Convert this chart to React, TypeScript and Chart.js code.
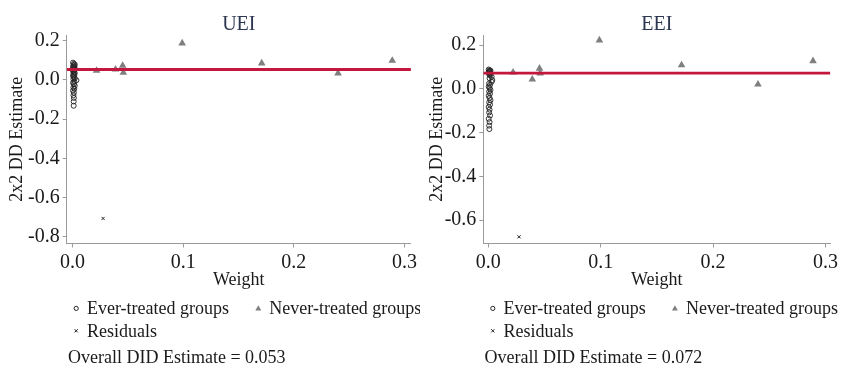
import React, { useEffect, useRef } from "react";
import { Chart, registerables } from "chart.js";

Chart.register(...registerables);

// ---------- UEI panel data ----------
const ueiTitle = "UEI";
const ueiEverX = [0.0004, 0.0012, 0.0020, 0.0008, 0.0016, 0.0004, 0.0012, 0.0020, 0.0008, 0.0016, 0.0004, 0.0012, 0.0020, 0.0008, 0.0016, 0.0004, 0.0012, 0.0020, 0.0035, 0.0008, 0.0016, 0.0004, 0.0012, 0.0020, 0.0008, 0.0016, 0.0004, 0.0012, 0.0008, 0.0012, 0.0010, 0.0010];
const ueiEverY = [0.088, 0.082, 0.078, 0.074, 0.070, 0.066, 0.062, 0.058, 0.054, 0.050, 0.045, 0.040, 0.035, 0.030, 0.025, 0.020, 0.014, 0.008, -0.002, 0.003, -0.008, -0.015, -0.022, -0.030, -0.038, -0.046, -0.055, -0.065, -0.078, -0.092, -0.110, -0.132];
const ueiNeverX = [0.0217, 0.0388, 0.0453, 0.0459, 0.0991, 0.171, 0.240, 0.289];
const ueiNeverY = [0.047, 0.054, 0.073, 0.037, 0.187, 0.085, 0.034, 0.098];
const ueiResidX = [0.0276];
const ueiResidY = [-0.707];
const ueiOverall = 0.053;
const ueiYTicks = [0.2, 0.0, -0.2, -0.4, -0.6, -0.8];
const ueiYMin = -0.835;
const ueiYMax = 0.229;
const ueiXMin = -0.0053;
const ueiXMax = 0.3059;

// ---------- EEI panel data ----------
const eeiTitle = "EEI";
const eeiEverX = [0.0004, 0.0012, 0.0020, 0.0008, 0.0016, 0.0004, 0.0012, 0.0020, 0.0008, 0.0016, 0.0030, 0.0012, 0.0036, 0.0030, 0.0008, 0.0016, 0.0004, 0.0012, 0.0020, 0.0008, 0.0016, 0.0004, 0.0012, 0.0020, 0.0008, 0.0016, 0.0004, 0.0012, 0.0008, 0.0016, 0.0004, 0.0012, 0.0008, 0.0010];
const eeiEverY = [0.088, 0.085, 0.083, 0.080, 0.078, 0.075, 0.072, 0.069, 0.066, 0.062, 0.055, 0.048, 0.040, 0.032, 0.025, 0.018, 0.010, 0.003, -0.005, -0.013, -0.022, -0.032, -0.042, -0.052, -0.062, -0.072, -0.083, -0.095, -0.108, -0.122, -0.137, -0.152, -0.168, -0.184];
const eeiNeverX = [0.0221, 0.0392, 0.0456, 0.0462, 0.0989, 0.172, 0.240, 0.289];
const eeiNeverY = [0.075, 0.043, 0.093, 0.071, 0.222, 0.108, 0.020, 0.127];
const eeiResidX = [0.0274];
const eeiResidY = [-0.676];
const eeiOverall = 0.072;
const eeiYTicks = [0.2, 0.0, -0.2, -0.4, -0.6];
const eeiYMin = -0.7065;
const eeiYMax = 0.2457;
const eeiXMin = -0.0044;
const eeiXMax = 0.3044;

// ---------- shared labels ----------
const xTicks = [0.0, 0.1, 0.2, 0.3];
const xTitle = "Weight";
const yTitle = "2x2 DD Estimate";
const legendEver = "Ever-treated groups";
const legendNever = "Never-treated groups";
const legendResid = "Residuals";
const overallLabel = "Overall DID Estimate = ";

const FONT = '"Liberation Serif", "Times New Roman", serif';
const TEXT = "#1a1a1a";
const AXIS = "#9a9a9a";
const TRI = "#7f7f7f";
const RED = "#c4173d";

type PanelProps = {
  title: string;
  everX: number[]; everY: number[];
  neverX: number[]; neverY: number[];
  residX: number[]; residY: number[];
  overall: number;
  yTicks: number[];
  yMin: number; yMax: number; xMin: number; xMax: number;
  width: number; yAxisWidth: number; padRight: number;
};

const H = 367;
const TOP = 35;
const XAXIS_H = 48;
const BOTTOM_PAD = 75.5;

function fmt(v: number) {
  const r = Math.abs(v) < 1e-9 ? 0 : v;
  return r.toFixed(1);
}

function Panel(p: PanelProps) {
  const ref = useRef<HTMLCanvasElement | null>(null);
  useEffect(() => {
    if (!ref.current) return;
    const zip = (xs: number[], ys: number[]) => xs.map((x, i) => ({ x, y: ys[i] }));
    const decor = {
      id: "decor",
      afterDraw(chart: any) {
        const ctx = chart.ctx as CanvasRenderingContext2D;
        const ca = chart.chartArea;
        ctx.save();
        // title
        ctx.fillStyle = "#2b3650";
        ctx.font = `20px ${FONT}`;
        ctx.textAlign = "center";
        ctx.textBaseline = "alphabetic";
        ctx.fillText(p.title, (ca.left + ca.right) / 2, 30);
        // legend
        const L = ca.left;
        const r1 = 309.6, r2 = 332, r3 = 358.6;
        ctx.font = `18px ${FONT}`;
        ctx.fillStyle = TEXT;
        ctx.textAlign = "left";
        ctx.textBaseline = "middle";
        ctx.fillText(legendEver, L + 20.3, r1);
        ctx.fillText(legendNever, L + 202.6, r1);
        ctx.fillText(legendResid, L + 20.3, r2);
        ctx.fillText(overallLabel + p.overall.toFixed(3), L + 1.3, r3);
        // markers
        const m1 = r1 - 1.2, m2 = r2 - 1.2;
        ctx.strokeStyle = "#222";
        ctx.lineWidth = 1;
        ctx.beginPath();
        ctx.arc(L + 9.5, m1, 2.1, 0, Math.PI * 2);
        ctx.stroke();
        ctx.fillStyle = TRI;
        const tx = L + 191.6, ty = m1 + 0.3, tr = 3.4;
        ctx.beginPath();
        ctx.moveTo(tx, ty - tr);
        ctx.lineTo(tx + tr * 0.866, ty + tr * 0.5);
        ctx.lineTo(tx - tr * 0.866, ty + tr * 0.5);
        ctx.closePath();
        ctx.fill();
        ctx.beginPath();
        const cx = L + 9.5, cy = m2, c = 1.6;
        ctx.moveTo(cx - c, cy - c); ctx.lineTo(cx + c, cy + c);
        ctx.moveTo(cx + c, cy - c); ctx.lineTo(cx - c, cy + c);
        ctx.stroke();
        ctx.restore();
      },
    };
    const chart = new Chart(ref.current, {
      type: "scatter",
      data: {
        datasets: [
          {
            type: "line" as any,
            label: "overall",
            data: [{ x: p.xMin, y: p.overall }, { x: p.xMax, y: p.overall }],
            borderColor: RED,
            borderWidth: 2.8,
            pointRadius: 0,
            fill: false,
            order: 0,
          },
          {
            label: legendNever,
            data: zip(p.neverX, p.neverY),
            pointStyle: "triangle",
            pointRadius: 4.4,
            backgroundColor: TRI,
            borderColor: TRI,
            borderWidth: 0,
            order: 1,
          },
          {
            label: legendEver,
            data: zip(p.everX, p.everY),
            pointStyle: "circle",
            pointRadius: 2.5,
            backgroundColor: "rgba(0,0,0,0)",
            borderColor: "#222",
            borderWidth: 0.9,
            order: 2,
          },
          {
            label: legendResid,
            data: zip(p.residX, p.residY),
            pointStyle: "crossRot",
            pointRadius: 2.2,
            borderColor: "#222",
            borderWidth: 1,
            order: 3,
          },
        ],
      },
      options: {
        responsive: false,
        animation: false,
        events: [],
        layout: { padding: { left: 0, top: TOP, right: p.padRight, bottom: BOTTOM_PAD } },
        plugins: { legend: { display: false }, tooltip: { enabled: false }, title: { display: false } },
        scales: {
          x: {
            type: "linear",
            position: "bottom",
            min: p.xMin,
            max: p.xMax,
            afterBuildTicks: (s: any) => { s.ticks = xTicks.map((v) => ({ value: v })); },
            afterFit: (s: any) => { s.height = XAXIS_H; },
            ticks: {
              autoSkip: false, maxRotation: 0, minRotation: 0, padding: 3,
              color: TEXT, font: { family: FONT, size: 20 },
              callback: (v: any) => fmt(Number(v)),
            },
            grid: { display: true, drawOnChartArea: false, drawTicks: true, tickLength: 4, color: AXIS, tickColor: AXIS, lineWidth: 1 },
            border: { display: true, color: AXIS, width: 1 },
            title: { display: true, text: xTitle, color: TEXT, font: { family: FONT, size: 18 }, padding: { top: 0, bottom: 0 } },
          },
          y: {
            type: "linear",
            position: "left",
            min: p.yMin,
            max: p.yMax,
            afterBuildTicks: (s: any) => { s.ticks = p.yTicks.map((v) => ({ value: v })); },
            afterFit: (s: any) => { s.width = p.yAxisWidth; },
            ticks: {
              autoSkip: false, padding: 3,
              color: TEXT, font: { family: FONT, size: 20 },
              callback: (v: any) => fmt(Number(v)),
            },
            grid: { display: true, drawOnChartArea: false, drawTicks: true, tickLength: 4, color: AXIS, tickColor: AXIS, lineWidth: 1 },
            border: { display: true, color: AXIS, width: 1 },
            title: { display: true, text: yTitle, color: TEXT, font: { family: FONT, size: 18 }, padding: { top: 6.7, bottom: 0 } },
          },
        },
      } as any,
      plugins: [decor],
    });
    return () => chart.destroy();
  }, []);
  return <canvas ref={ref} width={p.width} height={H} style={{ display: "block", width: p.width, height: H }} />;
}

export default function App() {
  return (
    <div style={{ position: "absolute", left: 0, top: 0, width: 841, height: H, background: "#fff", display: "flex" }}>
      <Panel
        title={ueiTitle}
        everX={ueiEverX} everY={ueiEverY}
        neverX={ueiNeverX} neverY={ueiNeverY}
        residX={ueiResidX} residY={ueiResidY}
        overall={ueiOverall}
        yTicks={ueiYTicks}
        yMin={ueiYMin} yMax={ueiYMax} xMin={ueiXMin} xMax={ueiXMax}
        width={420} yAxisWidth={66.7} padRight={1}
      />
      <Panel
        title={eeiTitle}
        everX={eeiEverX} everY={eeiEverY}
        neverX={eeiNeverX} neverY={eeiNeverY}
        residX={eeiResidX} residY={eeiResidY}
        overall={eeiOverall}
        yTicks={eeiYTicks}
        yMin={eeiYMin} yMax={eeiYMax} xMin={eeiXMin} xMax={eeiXMax}
        width={421} yAxisWidth={63.3} padRight={7.7}
      />
    </div>
  );
}
